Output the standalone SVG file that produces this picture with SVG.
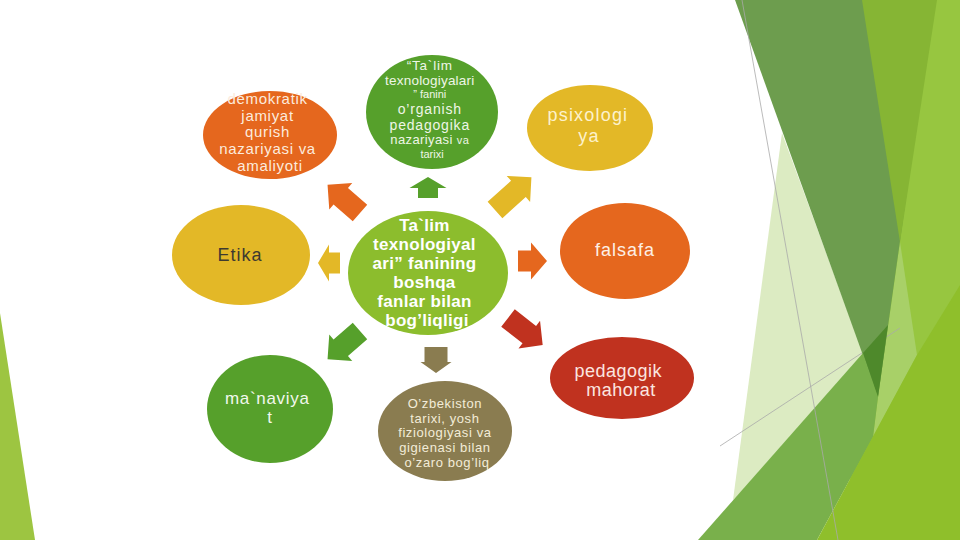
<svg xmlns="http://www.w3.org/2000/svg" width="960" height="540" viewBox="0 0 960 540">
<style>
.t{font-family:"Liberation Sans",Arial,sans-serif;text-anchor:middle}
.b{font-weight:bold}
.orange{fill:#e5671e}
.green{fill:#56a02b}
.yellow{fill:#e3b827}
.lime{fill:#8cbd2d}
.red{fill:#c0321f}
.olive{fill:#8a7c50}
.thin{stroke:#a9a9a9;stroke-width:0.8;fill:none}
</style>
<rect width="960" height="540" fill="#ffffff"/>
<g id="decor">
  <polygon points="0,313 35,540 0,540" fill="#9dc541"/>
  <polygon points="900,0 960,0 960,300 850,480 860,300" fill="#97c640"/>
  <polygon points="782,133 870,372 733,500" fill="#dcebc2"/>
  <polygon points="900,242 917,355 873,437 878,397" fill="#a8d068"/>
  <line class="thin" x1="720" y1="446" x2="900" y2="328"/>
  <polygon points="735,0 934,0 878,397" fill="#6d9d4e"/>
  <polygon points="862,0 937,0 900,242" fill="#86b534"/>
  <polygon points="698,540 863,353 878,397 873,437 817,540" fill="#79b04b"/>
  <polygon points="863,353 888,325 878,397" fill="#4e892b"/>
  <polygon points="817,540 917,355 960,285 960,540" fill="#8fbf2b"/>
  <line class="thin" x1="742" y1="0" x2="838" y2="540"/>
</g>
<g id="connectors">
  <polygon class="orange" points="0,-11 25.5,-11 25.5,-17.5 43,0 25.5,17.5 25.5,11 0,11" transform="translate(360,213) rotate(-139)"/>
  <polygon class="green" points="0,-10 10,-10 10,-18.5 21,0 10,18.5 10,10 0,10" transform="translate(428,198) rotate(-90)"/>
  <polygon class="yellow" points="0,-11 31.5,-11 31.5,-17.5 49,0 31.5,17.5 31.5,11 0,11" transform="translate(495,210) rotate(-42)"/>
  <polygon class="yellow" points="0,-10.5 11,-10.5 11,-18.5 22,0 11,18.5 11,10.5 0,10.5" transform="translate(340,263) rotate(180)"/>
  <polygon class="orange" points="0,-10.5 13,-10.5 13,-18.5 29,0 13,18.5 13,10.5 0,10.5" transform="translate(518,261)"/>
  <polygon class="green" points="0,-11 25.5,-11 25.5,-17.5 43,0 25.5,17.5 25.5,11 0,11" transform="translate(360,331) rotate(139)"/>
  <polygon class="olive" points="0,-11.5 15,-11.5 15,-15.5 26,0 15,15.5 15,11.5 0,11.5" transform="translate(436,347) rotate(90)"/>
  <polygon class="red" points="0,-11 27,-11 27,-17.5 44,0 27,17.5 27,11 0,11" transform="translate(508,318) rotate(38)"/>
</g>
<g id="node-demokratik">
  <ellipse class="orange" cx="270" cy="135" rx="67" ry="44"/>
  <text class="t" font-size="15" letter-spacing="0.7" fill="#fcebdd">
    <tspan x="270" y="104">demokratik</tspan>
    <tspan x="270" y="121">jamiyat</tspan>
    <tspan x="270" y="137">qurish</tspan>
    <tspan x="270" y="154">nazariyasi va</tspan>
    <tspan x="270" y="171">amaliyoti</tspan>
  </text>
</g>
<g id="node-talim-top">
  <ellipse class="green" cx="432" cy="112" rx="66" ry="57"/>
  <text class="t" fill="#eef6e6">
    <tspan x="432" y="70" font-size="13.5" letter-spacing="0.8">“Ta`lim</tspan>
    <tspan x="432" y="85" font-size="13.5" letter-spacing="0.2">texnologiyalari</tspan>
    <tspan x="432" y="98" font-size="11">” fanini</tspan>
    <tspan x="432" y="114" font-size="14" letter-spacing="0.8">o’rganish</tspan>
    <tspan x="432" y="130" font-size="14" letter-spacing="0.8">pedagogika</tspan>
    <tspan x="432" y="144" font-size="13" letter-spacing="0.4">nazariyasi <tspan font-size="11">va</tspan></tspan>
    <tspan x="432" y="158" font-size="11">tarixi</tspan>
  </text>
</g>
<g id="node-psixologiya">
  <ellipse class="yellow" cx="590" cy="128" rx="63" ry="43"/>
  <text class="t" font-size="18" letter-spacing="1.2" fill="#fdf2cc">
    <tspan x="591" y="121">psixologi</tspan>
    <tspan x="589" y="142">ya</tspan>
  </text>
</g>
<g id="node-etika">
  <ellipse class="yellow" cx="241" cy="255" rx="69" ry="50"/>
  <text class="t" x="240" y="261" font-size="18" letter-spacing="1" fill="#3e3a30">Etika</text>
</g>
<g id="node-center">
  <ellipse class="lime" cx="428" cy="273" rx="80" ry="62"/>
  <text class="t b" font-size="17" letter-spacing="0.3" fill="#ffffff">
    <tspan x="427" y="231">Ta`lim</tspan>
    <tspan x="427" y="250">texnologiyal</tspan>
    <tspan x="427" y="269">ari” fanining</tspan>
    <tspan x="427" y="288">boshqa</tspan>
    <tspan x="427" y="307">fanlar bilan</tspan>
    <tspan x="427" y="326">bog’liqligi</tspan>
  </text>
</g>
<g id="node-falsafa">
  <ellipse class="orange" cx="625" cy="251" rx="65" ry="48"/>
  <text class="t" x="625" y="256" font-size="18" letter-spacing="1" fill="#fdf0e6">falsafa</text>
</g>
<g id="node-manaviyat">
  <ellipse class="green" cx="270" cy="409" rx="63" ry="54"/>
  <text class="t" font-size="17" letter-spacing="0.7" fill="#f2f8ee">
    <tspan x="270" y="404">ma`naviya</tspan>
    <tspan x="270" y="423">t</tspan>
  </text>
</g>
<g id="node-ozbekiston">
  <ellipse class="olive" cx="445" cy="431" rx="67" ry="50"/>
  <text class="t" font-size="13" letter-spacing="0.6" fill="#f3ecd8">
    <tspan x="447" y="408">O’zbekiston</tspan>
    <tspan x="447" y="423">tarixi, yosh</tspan>
    <tspan x="447" y="437">fiziologiyasi va</tspan>
    <tspan x="447" y="452">gigienasi bilan</tspan>
    <tspan x="447" y="467">o’zaro bog’liq</tspan>
  </text>
</g>
<g id="node-pedagogik">
  <ellipse class="red" cx="622" cy="378" rx="72" ry="41"/>
  <text class="t" font-size="18" letter-spacing="0.5" fill="#fbe6e0">
    <tspan x="621" y="377">pedagogik</tspan>
    <tspan x="621" y="396">mahorat</tspan>
  </text>
</g>
</svg>
